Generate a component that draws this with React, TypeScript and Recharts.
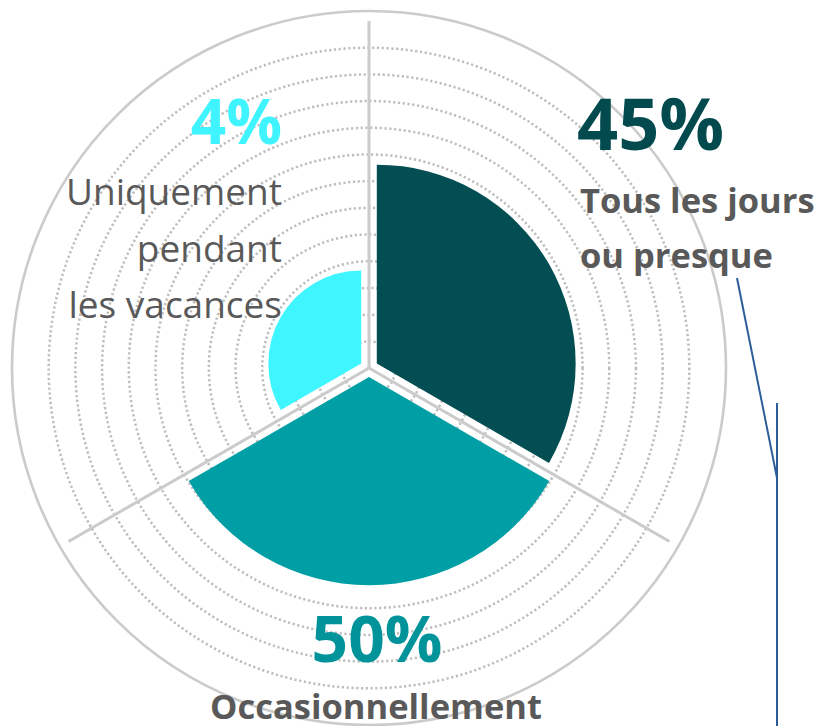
import React from 'react';
import {
  RadialBarChart,
  RadialBar,
  PolarAngleAxis,
  PolarRadiusAxis,
  PolarGrid,
  Cell,
  Sector,
} from 'recharts';

// ---- data ----
const categories = ['Tous les jours ou presque', 'Occasionnellement', 'Uniquement pendant les vacances'];
const percentLabels = ['45%', '50%', '4%'];
const radiusValues = [7.45, 7.8, 3.48]; // sector radius in grid-ring units
const ringTicks = [1, 2, 3, 4, 5, 6, 7, 8, 9, 10, 11, 12];
const sectorColors = ['#024E53', '#009FA5', '#3FF5FF'];

const data = categories.map((name, i) => ({ name, r: radiusValues[i], label: percentLabels[i] }));

// ---- layout ----
const W = 822;
const H = 726;
const CX = 369;
const CY = 368;
const R_MAX = 13;
const OUTER = 347;
const unit = OUTER / R_MAX;
const EXPLODE = 9;
const RAD = Math.PI / 180;
// first category runs clockwise from 12 o'clock
const START = -30;
const END = -390;
const boundaryAngles = categories.map((_, i) => 90 - (i * 360) / categories.length);

const ExplodedSector = (props: any) => {
  const { cx, cy, startAngle, endAngle, innerRadius, outerRadius, fill } = props;
  const mid = ((startAngle + endAngle) / 2) * RAD;
  const dx = EXPLODE * Math.cos(mid);
  const dy = -EXPLODE * Math.sin(mid);
  return (
    <Sector
      cx={cx + dx}
      cy={cy + dy}
      innerRadius={innerRadius}
      outerRadius={outerRadius}
      startAngle={startAngle}
      endAngle={endAngle}
      fill={fill}
      stroke="none"
    />
  );
};

const FONT = '"Open Sans", "Noto Sans", sans-serif';
const GRAY = '#595959';

export default function App() {
  return (
    <div style={{ position: 'absolute', left: 0, top: 0, width: W, height: H, background: '#fff' }}>
      <RadialBarChart
        width={W}
        height={H}
        data={data}
        cx={CX}
        cy={CY}
        innerRadius={0}
        outerRadius={OUTER}
        startAngle={START}
        endAngle={END}
        layout="centric"
        barCategoryGap={0}
        barGap={0}
        margin={{ top: 0, right: 0, bottom: 0, left: 0 }}
      >
        <PolarAngleAxis type="category" dataKey="name" tick={false} axisLine={false} tickLine={false} />
        <PolarRadiusAxis type="number" domain={[0, R_MAX]} tick={false} axisLine={false} />
        <PolarGrid
          gridType="circle"
          radialLines={false}
          polarAngles={[]}
          polarRadius={ringTicks.map((t) => t * unit)}
          stroke="#BDBDBD"
          strokeWidth={2.5}
          strokeDasharray="2.2 2.6"
        />
        <PolarGrid
          gridType="circle"
          radialLines={false}
          polarAngles={[]}
          polarRadius={[357]}
          stroke="#CBCBCB"
          strokeWidth={2.6}
        />
        <PolarGrid
          gridType="circle"
          radialLines={true}
          polarAngles={boundaryAngles}
          polarRadius={[]}
          stroke="#CBCBCB"
          strokeWidth={3}
        />
        <RadialBar dataKey="r" isAnimationActive={false} shape={ExplodedSector}>
          {data.map((d, i) => (
            <Cell key={d.name} fill={sectorColors[i]} />
          ))}
        </RadialBar>
      </RadialBarChart>
      <svg
        width={W}
        height={H}
        style={{ position: 'absolute', left: 0, top: 0, pointerEvents: 'none' }}
      >
        <g fontFamily={FONT}>
          <text x={577} y={150} fontSize={72} fontWeight={700} fill="#034A4F">{percentLabels[0]}</text>
          <text x={580} y={213} fontSize={34.5} fontWeight={700} fill={GRAY}>Tous les jours</text>
          <text x={580} y={268} fontSize={34.5} fontWeight={700} fill={GRAY}>ou presque</text>

          <text x={377} y={662} fontSize={64} fontWeight={700} fill="#00939A" textAnchor="middle">{percentLabels[1]}</text>
          <text x={376} y={719} fontSize={34.5} fontWeight={700} fill={GRAY} textAnchor="middle">Occasionnellement</text>

          <text x={282} y={144} fontSize={62} fontWeight={700} fill="#3FF4FE" textAnchor="end">{percentLabels[2]}</text>
          <text x={282} y={205} fontSize={37} fill={GRAY} textAnchor="end">Uniquement</text>
          <text x={282} y={262} fontSize={37} fill={GRAY} textAnchor="end">pendant</text>
          <text x={282} y={318} fontSize={37} fill={GRAY} textAnchor="end">les vacances</text>
        </g>
        <line x1={737} y1={278} x2={777} y2={478} stroke="#2B5E99" strokeWidth={2} />
        <line x1={777} y1={403} x2={777} y2={726} stroke="#2B5E99" strokeWidth={2} />
      </svg>
    </div>
  );
}
